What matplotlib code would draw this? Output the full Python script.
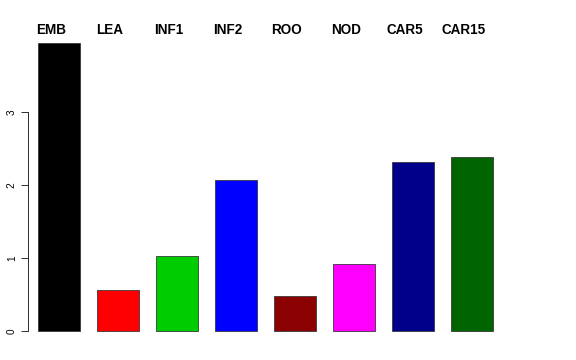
import matplotlib
matplotlib.use("Agg")
import matplotlib.pyplot as plt

labels = ["EMB", "LEA", "INF1", "INF2", "ROO", "NOD", "CAR5", "CAR15"]
values = [3.95, 0.557, 1.03, 2.064, 0.475, 0.918, 2.31, 2.39]
colors = ["#000000", "#FF0000", "#00CD00", "#0000FF", "#8B0000", "#FF00FF", "#00008B", "#006400"]

plt.rcParams["font.family"] = ["Liberation Sans", "DejaVu Sans"]

fig = plt.figure(figsize=(8, 5), dpi=72)
W, H = 576.0, 360.0
# plot region in pixels: left 28.3, right 548, top 31, bottom 342
ax = fig.add_axes([28.3 / W, 1 - 342 / H, (548 - 28.3) / W, (342 - 31) / H])

xs = list(range(len(labels)))
ax.bar(xs, values, width=0.71, color=colors, edgecolor="#333333", linewidth=0.8)

ax.set_xlim((28.3 - 59) / 59, (548 - 59) / 59)
ax.set_ylim(-(342 - 331) / 73, (331 - 31) / 73)

for s in ["top", "right", "bottom"]:
    ax.spines[s].set_visible(False)
ax.spines["left"].set_bounds(0, 3)
ax.spines["left"].set_linewidth(0.8)
ax.set_xticks([])
ax.set_yticks([0, 1, 2, 3])
ax.set_yticklabels(["0", "1", "2", "3"], rotation=90, va="center", fontsize=10)
ax.tick_params(axis="y", length=7.5, width=0.8, pad=4)

for x, lab in zip(xs, labels):
    ax.text(x - 0.136, (331 - 30) / 73, lab, ha="center", va="center",
            fontsize=13.5, fontweight="bold", clip_on=False)

fig.savefig("out.png", dpi=72)
